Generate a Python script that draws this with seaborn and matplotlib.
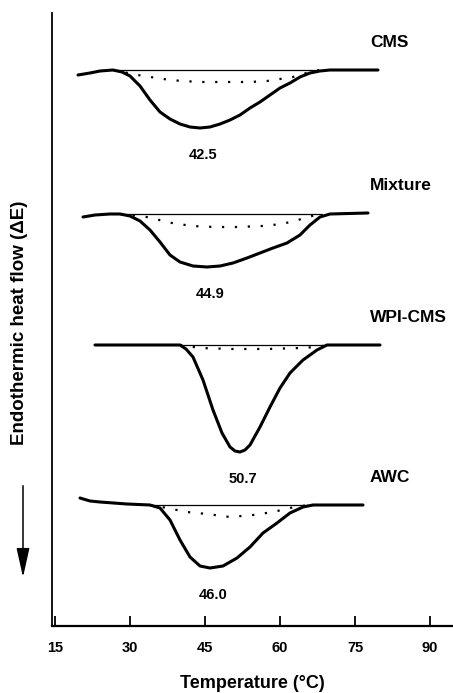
import numpy as np
import pandas as pd
import matplotlib
matplotlib.use('Agg')
import matplotlib.pyplot as plt
import seaborn as sns

sns.set_style('ticks')
plt.rcParams['font.family'] = ['Liberation Sans', 'DejaVu Sans']
plt.rcParams['font.weight'] = 'bold'
plt.rcParams['text.color'] = 'black'
plt.rcParams['axes.labelcolor'] = 'black'
plt.rcParams['xtick.color'] = 'black'
plt.rcParams['axes.edgecolor'] = 'black'

## DSC thermograms (y is arbitrary heat-flow units, offset per sample)
cms_temp = [19.6, 22.0, 24.0, 26.6, 28.4, 30.0, 32.0, 34.0, 36.0, 38.0, 40.0, 42.0, 44.0, 46.0,
            48.0, 50.0, 52.0, 54.0, 56.0, 58.0, 60.0, 62.0, 64.0, 66.0, 68.0, 70.0, 79.6]
cms_flow = [55.1, 55.3, 55.5, 55.6, 55.4, 55.0, 54.0, 52.6, 51.4, 50.7, 50.2, 49.9, 49.8, 49.9,
            50.2, 50.6, 51.1, 51.8, 52.4, 53.1, 53.8, 54.3, 54.9, 55.3, 55.5, 55.6, 55.6]
cms_dot_temp = [26.6, 32.6, 35.4, 38.0, 40.6, 44.0, 47.4, 50.6, 54.0, 57.4, 60.0, 62.6, 64.6, 66.6, 68.0]
cms_dot_flow = [55.6, 55.0, 54.8, 54.6, 54.5, 54.4, 54.4, 54.4, 54.4, 54.5, 54.7, 54.9, 55.2, 55.5, 55.6]

mix_temp = [20.6, 23.0, 26.0, 28.0, 30.0, 32.0, 34.0, 36.0, 38.0, 40.0, 42.6, 45.4, 48.0, 50.6,
            53.4, 56.0, 58.6, 61.4, 64.0, 66.0, 68.0, 70.0, 77.6]
mix_flow = [40.9, 41.1, 41.2, 41.2, 41.0, 40.5, 39.6, 38.4, 37.1, 36.4, 36.0, 35.9, 36.0, 36.3,
            36.8, 37.3, 37.8, 38.3, 39.1, 40.1, 40.9, 41.2, 41.3]
mix_dot_temp = [28.0, 32.4, 35.0, 38.4, 42.4, 47.0, 51.6, 56.4, 60.4, 63.6, 66.4, 68.4]
mix_dot_flow = [41.2, 41.0, 40.7, 40.3, 40.0, 39.9, 39.9, 40.0, 40.2, 40.6, 41.0, 41.2]

wpi_temp = [23.0, 40.0, 41.2, 42.6, 44.6, 46.6, 48.4, 50.0, 51.0, 52.0, 53.0, 54.0, 56.0,
            58.0, 60.0, 62.0, 64.6, 67.4, 69.4, 80.0]
wpi_flow = [28.1, 28.1, 27.7, 26.9, 24.6, 21.6, 19.3, 17.9, 17.5, 17.4, 17.6, 18.1, 19.9,
            21.9, 23.8, 25.3, 26.6, 27.6, 28.1, 28.1]
wpi_dot_temp = [40.0, 44.0, 50.6, 57.4, 64.0, 67.4, 69.4]
wpi_dot_flow = [28.1, 27.8, 27.7, 27.7, 27.8, 27.9, 28.1]

awc_temp = [20.0, 22.0, 24.0, 29.4, 34.0, 36.0, 38.0, 40.0, 42.0, 44.0, 46.0, 48.6, 51.4,
            54.0, 56.6, 59.4, 62.0, 64.6, 66.6, 76.6]
awc_flow = [12.8, 12.5, 12.4, 12.2, 12.1, 11.8, 10.6, 8.6, 6.9, 6.0, 5.8, 6.0, 6.8,
            7.9, 9.3, 10.3, 11.3, 11.9, 12.1, 12.1]
awc_dot_temp = [34.0, 37.4, 41.4, 45.4, 50.0, 54.6, 58.6, 62.0, 64.0, 66.6]
awc_dot_flow = [12.1, 11.8, 11.4, 11.2, 10.9, 11.1, 11.4, 11.8, 12.0, 12.1]

samples = ['CMS', 'Mixture', 'WPI-CMS', 'AWC']
peak_temps = ['42.5', '44.9', '50.7', '46.0']
curves = {
    'CMS': (cms_temp, cms_flow, cms_dot_temp, cms_dot_flow),
    'Mixture': (mix_temp, mix_flow, mix_dot_temp, mix_dot_flow),
    'WPI-CMS': (wpi_temp, wpi_flow, wpi_dot_temp, wpi_dot_flow),
    'AWC': (awc_temp, awc_flow, awc_dot_temp, awc_dot_flow),
}

fig = plt.figure(figsize=(4.53, 6.93), dpi=100)
ax = fig.add_axes([52/453, 1-626/693, 401/453, 613/693])

for name, pk in zip(samples, peak_temps):
    t, f, dt, df = curves[name]
    # straight baseline under the peak
    ax.plot([dt[0], dt[-1]], [df[0], df[-1]], color='black', lw=0.9)
    sns.lineplot(x=t, y=f, sort=False, estimator=None, color='black', lw=2.2, ax=ax)
    sns.lineplot(x=dt, y=df, sort=False, estimator=None, color='black', lw=1.6,
                 linestyle=(0, (1, 4.8)), ax=ax)
    i_min = int(np.argmin(f))
    ax.text(t[i_min] + 0.6, f[i_min] - 2.7, pk, ha='center', va='center', fontsize=10.5,
            fontweight='bold')
    ax.text(78.0, f[-1] + 2.7, name, ha='left', va='center', fontsize=12.5, fontweight='bold')

ax.set_xlim(14.4, 94.6)
ax.set_ylim(0, 61.3)
ax.set_xticks([15, 30, 45, 60, 75, 90])
ax.set_yticks([])
ax.tick_params(axis='x', direction='in', length=7, width=1.3, pad=11, labelsize=10.5)
for lab in ax.get_xticklabels():
    lab.set_fontweight('bold')
ax.spines['top'].set_visible(False)
ax.spines['right'].set_visible(False)
ax.spines['left'].set_linewidth(1.3)
ax.spines['bottom'].set_linewidth(1.6)
ax.set_xlabel('Temperature (°C)', fontsize=13, fontweight='bold', labelpad=14)
ax.set_ylabel('')

fig.text(20/453, 1-323/693, 'Endothermic heat flow (\u0394E)', rotation=90, ha='center',
         va='center', fontsize=13.5, fontweight='bold')
ax.annotate('', xy=(23/453, 1-580/693), xytext=(23/453, 1-483/693), xycoords='figure fraction',
            arrowprops=dict(arrowstyle='-|>,head_length=0.9,head_width=0.2', lw=1.1,
                            color='black', mutation_scale=20))

fig.savefig('out.png', dpi=100)
